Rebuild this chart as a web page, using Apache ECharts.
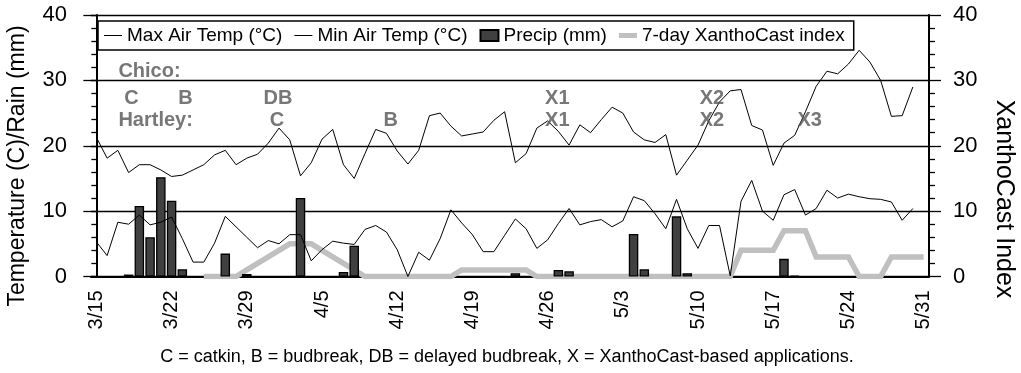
<!DOCTYPE html>
<html><head><meta charset="utf-8">
<script src="https://cdn.jsdelivr.net/npm/echarts@6/dist/echarts.min.js"></script>
<style>html,body{margin:0;padding:0;background:#fff}#c{width:1021px;height:373px}</style>
</head><body><div id="c"></div>
<script>
const dates = ["3/15","3/16","3/17","3/18","3/19","3/20","3/21","3/22","3/23","3/24","3/25","3/26","3/27","3/28","3/29","3/30","3/31",
"4/1","4/2","4/3","4/4","4/5","4/6","4/7","4/8","4/9","4/10","4/11","4/12","4/13","4/14","4/15","4/16","4/17","4/18","4/19","4/20","4/21","4/22","4/23","4/24","4/25","4/26","4/27","4/28","4/29","4/30",
"5/1","5/2","5/3","5/4","5/5","5/6","5/7","5/8","5/9","5/10","5/11","5/12","5/13","5/14","5/15","5/16","5/17","5/18","5/19","5/20","5/21","5/22","5/23","5/24","5/25","5/26","5/27","5/28","5/29","5/30","5/31"];

const maxTemp = [21.3,18.1,19.3,15.9,17.1,17.1,16.3,15.3,15.5,16.3,
 17.1,18.6,19.3,17.1,18.1,18.7,20.4,22.7,20.9,15.4,
 17.4,21.0,22.5,17.1,15.0,18.8,22.5,21.9,19.2,17.2,
 19.3,24.6,25.0,23.0,21.5,21.8,22.1,23.9,25.2,17.4,
 18.8,22.7,23.8,22.2,20.1,23.2,22.0,24.0,25.9,25.0,
 22.1,20.9,20.5,21.7,15.5,17.8,20.1,23.8,26.7,28.4,
 28.6,23.1,22.4,17.0,20.4,21.6,25.2,29.1,31.4,31.0,
 32.5,34.6,32.8,30.0,24.5,24.6,29.0,null];

const minTemp = [5.3,3.2,8.3,8.0,9.4,7.9,8.3,9.1,5.8,2.2,
 2.2,5.1,9.2,7.6,6.0,4.4,5.5,5.0,6.4,6.4,
 2.4,4.1,5.4,5.1,4.9,7.2,7.8,6.8,4.1,0.0,
 3.7,2.5,5.8,10.2,8.2,6.4,3.8,3.8,6.3,8.8,
 7.3,4.3,5.6,8.1,10.4,7.9,8.4,8.7,7.6,8.5,
 12.2,11.6,9.6,7.3,11.8,7.3,4.3,7.8,7.8,0.1,
 11.5,14.7,10.0,8.6,12.5,13.3,9.4,10.4,13.2,12.0,
 12.6,12.2,11.9,11.8,11.4,8.6,10.4,null];

const precip = [null,null,null,0.3,10.8,6.0,15.2,11.6,1.1,null,
 null,null,3.5,null,0.4,null,null,null,null,12.0,
 null,null,null,0.7,4.7,null,null,null,null,null,
 null,null,null,null,null,null,null,null,null,0.5,
 null,null,null,1.0,0.8,null,null,null,null,null,
 6.5,1.1,null,null,9.2,0.5,null,null,null,null,
 null,null,null,null,2.7,0.1,null,null,null,null,
 null,null,null,null,null,null,null,null];

const xantho = [null,null,null,null,null,null,null,null,null,null,
 0,0,0,0,1,2,3,4,5,5,
 5,4,3,2,1,0,0,0,0,0,
 0,0,0,0,1,1,1,1,1,1,
 1,0,0,0,0,0,0,0,0,0,
 0,0,0,0,0,0,0,0,0,0,
 4,4,4,4,7,7,7,3,3,3,
 3,0,0,0,3,3,3,3];

// annotation texts: label, day position, value position, alignment
const annLabels = ["Chico:","C","B","DB","Hartley:","C","B","X1","X1","X2","X2","X3"];
const annDay    = [2.05,3.26,8.3,16.9,2.05,16.8,27.4,42.9,42.9,57.3,57.3,66.4];
const annValue  = [31.4,27.3,27.3,27.3,23.9,23.9,23.9,27.3,23.9,27.3,23.9,23.9];
const annAlign  = ["left","center","center","center","left","center","center","center","center","center","center","center"];

const FONT = '"Liberation Sans", Arial, Helvetica, sans-serif';
const chart = echarts.init(document.getElementById('c'), null, {renderer:'canvas'});

const annData = annLabels.map((t,i)=>({value:[annDay[i], annValue[i]], name:t,
  label:{align:annAlign[i]}}));

const thinIcon = 'path://M0,0H36V2H0Z';
const thickIcon = 'path://M0,0H20V5.5H0Z';

chart.setOption({
  animation:false,
  backgroundColor:'#fff',
  textStyle:{fontFamily:FONT},
  grid:{left:91, right:92, top:15, height:261.5},
  legend:{
    data:[
      {name:'Max Air Temp (°C)', icon:thinIcon},
      {name:'Min Air Temp (°C)', icon:thinIcon},
      {name:'Precip (mm)', icon:'rect'},
      {name:'7-day XanthoCast index', icon:thickIcon}
    ],
    left:98, top:21, itemWidth:18, itemHeight:11, itemGap:12,
    padding:[5,9,5,6], borderColor:'#000', borderWidth:1.5, backgroundColor:'#fff',
    selectedMode:false,
    textStyle:{fontSize:19, color:'#000', fontFamily:FONT}
  },
  xAxis:[
    {type:'category', data:dates, boundaryGap:true, position:'bottom',
     axisLine:{onZero:false, lineStyle:{color:'#000', width:2}},
     axisTick:{alignWithLabel:true, interval:0, length:5, lineStyle:{color:'#000', width:1.3}},
     axisLabel:{show:false}, splitLine:{show:false}},
    {type:'category', data:dates, boundaryGap:true, position:'bottom',
     axisLine:{show:false, onZero:false},
     axisTick:{alignWithLabel:true, interval:6, length:11, lineStyle:{color:'#000', width:1.3}},
     axisLabel:{interval:6, rotate:90, margin:14, fontSize:20, color:'#000', fontFamily:FONT},
     splitLine:{show:false}},
    {type:'value', min:-0.5, max:77.5, show:false}
  ],
  yAxis:[
    {type:'value', min:0, max:40, interval:10, position:'left',
     axisLine:{show:true, lineStyle:{color:'#000', width:2}},
     axisTick:{show:true, length:13, lineStyle:{color:'#000', width:1.3}},
     minorTick:{show:true, splitNumber:5, length:5, lineStyle:{color:'#000', width:1.3}},
     axisLabel:{margin:24, fontSize:22, color:'#000', fontFamily:FONT},
     splitLine:{show:true, lineStyle:{color:'#000', width:1.3}}},
    {type:'value', min:0, max:40, interval:10, position:'right',
     axisLine:{show:true, lineStyle:{color:'#000', width:2}},
     axisTick:{show:true, length:12, lineStyle:{color:'#000', width:1.3}},
     minorTick:{show:true, splitNumber:5, length:6, lineStyle:{color:'#000', width:1.3}},
     axisLabel:{margin:24, fontSize:22, color:'#000', fontFamily:FONT},
     splitLine:{show:false}}
  ],
  graphic:[
    {type:'text', x:18, y:166, rotation:Math.PI/2,
     style:{text:'Temperature (C)/Rain (mm)', font:'23px '+FONT, fill:'#000', align:'center', verticalAlign:'middle'}},
    {type:'text', x:1004, y:199, rotation:-Math.PI/2,
     style:{text:'XanthoCast Index', font:'25px '+FONT, fill:'#000', align:'center', verticalAlign:'middle'}},
    {type:'text', x:507, y:357,
     style:{text:'C = catkin, B = budbreak, DB = delayed budbreak, X = XanthoCast-based applications.', font:'18px '+FONT, fill:'#000', align:'center', verticalAlign:'middle'}}
  ],
  series:[
    {name:'7-day XanthoCast index', type:'line', xAxisIndex:0, yAxisIndex:1, data:xantho,
     symbol:'none', lineStyle:{color:'#c0c0c0', width:5.5, join:'miter'}, itemStyle:{color:'#c0c0c0'}, z:1},
    {name:'Precip (mm)', type:'bar', xAxisIndex:0, yAxisIndex:0, data:precip, barWidth:9.5,
     itemStyle:{color:'#404040', borderColor:'#000', borderWidth:1.3}, z:2},
    {name:'Max Air Temp (°C)', type:'line', xAxisIndex:0, yAxisIndex:0, data:maxTemp,
     symbol:'none', lineStyle:{color:'#000', width:1}, itemStyle:{color:'#000'}, z:3},
    {name:'Min Air Temp (°C)', type:'line', xAxisIndex:0, yAxisIndex:0, data:minTemp,
     symbol:'none', lineStyle:{color:'#000', width:1}, itemStyle:{color:'#000'}, z:3},
    {name:'annotations', type:'scatter', xAxisIndex:2, yAxisIndex:0, data:annData, symbolSize:0,
     label:{show:true, position:'inside', formatter:p=>p.name, fontSize:20, fontWeight:'bold', color:'#555', fontFamily:FONT}, z:4}
  ]
});
</script></body></html>
